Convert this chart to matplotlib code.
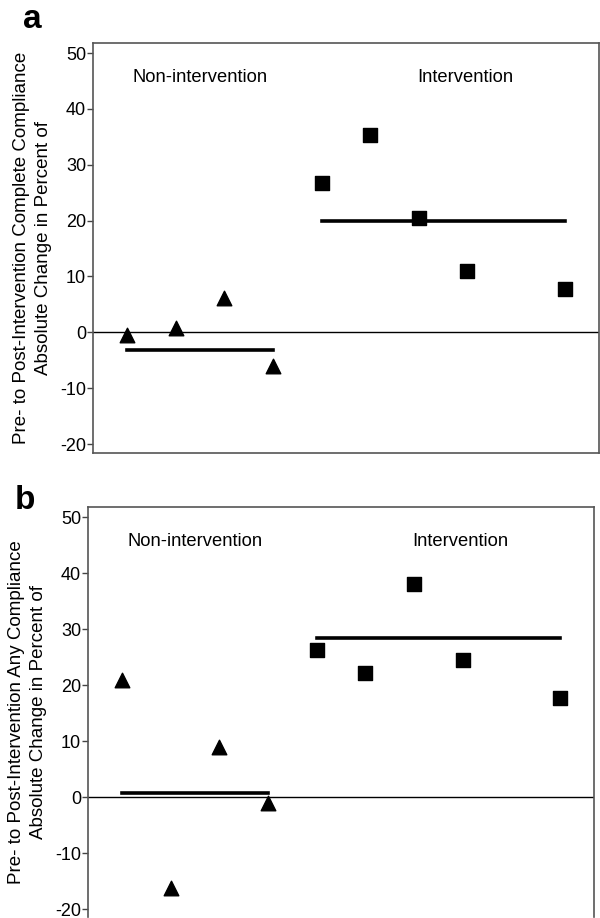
import matplotlib
matplotlib.use('Agg')
import matplotlib.pyplot as plt

plt.rcParams['font.family'] = ['Liberation Sans', 'DejaVu Sans']

# panel a: complete compliance
a_non_x = [1, 2, 3, 4]
a_non_y = [-0.5, 0.7, 6.1, -6.1]
a_non_mean = -3.1
a_int_x = [5, 6, 7, 8, 10]
a_int_y = [26.8, 35.4, 20.4, 10.9, 7.7]
a_int_mean = 20.0

# panel b: any compliance
b_non_x = [1, 2, 3, 4]
b_non_y = [20.9, -16.3, 8.9, -1.1]
b_non_mean = 0.7
b_int_x = [5, 6, 7, 8, 10]
b_int_y = [26.3, 22.2, 38.1, 24.5, 17.7]
b_int_mean = 28.4

yticks = [-20, -10, 0, 10, 20, 30, 40, 50]
group_labels = ['Non-intervention', 'Intervention']

fig = plt.figure(figsize=(6, 9.18), dpi=100)
ax_a = fig.add_axes([0.155, 0.5065, 0.843, 0.4467])
ax_b = fig.add_axes([0.1467, 0.0011, 0.843, 0.4466])


def draw_panel(ax, nx, ny, nmean, ix, iy, imean, ylabel, ylim):
    ax.axhline(0, color='black', lw=1, zorder=1)
    ax.plot([nx[0], nx[-1]], [nmean, nmean], color='black', lw=2.6, zorder=2)
    ax.plot([ix[0], ix[-1]], [imean, imean], color='black', lw=2.6, zorder=2)
    ax.scatter(nx, ny, marker='^', s=110, color='black', zorder=3)
    ax.scatter(ix, iy, marker='s', s=90, color='black', zorder=3)
    ax.set_xlim(0.3, 10.7)
    ax.set_ylim(*ylim)
    ax.set_xticks([])
    ax.set_yticks(yticks)
    ax.set_yticklabels([str(t) for t in yticks])
    ax.tick_params(axis='y', direction='out', length=4, width=1,
                   labelsize=13, pad=1, color='#444444')
    for s in ax.spines.values():
        s.set_color('#555555')
        s.set_linewidth(1.2)
    ax.set_ylabel(ylabel, fontsize=13.5, linespacing=1.4, labelpad=6)
    ax.text(2.5, 45.6, group_labels[0], ha='center', va='center', fontsize=13.2)
    ax.text(7.95, 45.6, group_labels[1], ha='center', va='center', fontsize=13.2)
    return ax


draw_panel(ax_a, a_non_x, a_non_y, a_non_mean, a_int_x, a_int_y, a_int_mean,
           'Pre- to Post-Intervention Complete Compliance\nAbsolute Change in Percent of',
           (-21.6, 51.8))
draw_panel(ax_b, b_non_x, b_non_y, b_non_mean, b_int_x, b_int_y, b_int_mean,
           'Pre- to Post-Intervention Any Compliance\nAbsolute Change in Percent of',
           (-21.4, 51.8))
ax_b.spines['bottom'].set_visible(False)

fig.text(0.038, 0.979, 'a', fontsize=24, fontweight='bold', ha='left', va='center')
fig.text(0.024, 0.455, 'b', fontsize=24, fontweight='bold', ha='left', va='center')

fig.savefig('out.png', dpi=100)
